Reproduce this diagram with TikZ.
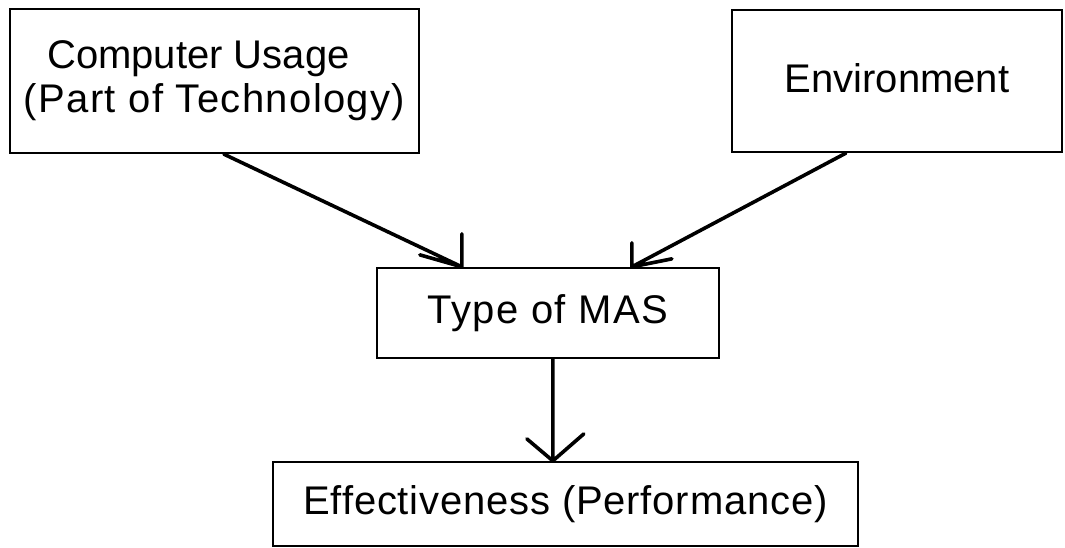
\documentclass[tikz,border=0pt]{standalone}
\usepackage{fontspec}
\setmainfont{Liberation Sans}
\usetikzlibrary{calc}
\newcommand{\wideA}{\addfontfeatures{LetterSpace=3.5}}
\newcommand{\wideB}{\addfontfeatures{LetterSpace=2}}
\begin{document}
\begin{tikzpicture}[x=1pt,y=-1pt,
  box/.style={draw=black, line width=2.3pt, rectangle, inner sep=0pt, align=center,
              font=\fontsize{40}{44}\selectfont},
  conn/.style={draw=black, line width=3.6pt, line cap=round, line join=round}]
\useasboundingbox[fill=white] (0,0) rectangle (1065,548);
\node[box, minimum width=409pt, minimum height=144pt] (b1) at (214.5,81)
  {Computer Usage\hspace*{32pt}\\{\wideA(Part of Technology)}};
\node[box, minimum width=330pt, minimum height=142pt] (b2) at (897,81) {\raisebox{5pt}{Environment}};
\node[box, minimum width=342pt, minimum height=90pt] (b3) at (548,313) {\wideA Type of MAS};
\node[box, minimum width=585pt, minimum height=84pt] (b4) at (565.5,504) {\wideB Effectiveness (Performance)};
% connector end points on the box edges
\coordinate (s1) at ($(b1.south west)+(215,0)$);
\coordinate (t1) at ($(b3.north west)+(86,0)$);
\coordinate (s2) at ($(b2.south west)+(115,0)$);
\coordinate (t2) at ($(b3.north west)+(256,0)$);
\coordinate (s3) at ($(b3.south west)+(177,0)$);
\coordinate (t3) at ($(b4.north west)+(281,0)$);
\draw[conn] (s1) -- (t1) -- ++(0,-33) (t1) -- ++(-42,-12);
\draw[conn] (s2) -- (t2) -- ++(0,-24) (t2) -- ++(40,-8);
\draw[conn] (s3) -- (t3) -- ++(-26,-22) (t3) -- ++(31,-27);
\end{tikzpicture}
\end{document}
